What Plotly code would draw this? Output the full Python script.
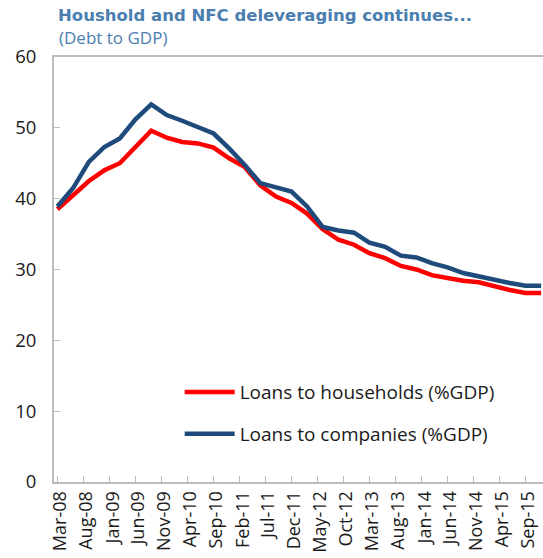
import plotly.graph_objects as go

# Quarterly observations, Mar-08 .. Dec-15 (dates placed mid-month)
quarters = [
    "2008-03-15", "2008-06-15", "2008-09-15", "2008-12-15",
    "2009-03-15", "2009-06-15", "2009-09-15", "2009-12-15",
    "2010-03-15", "2010-06-15", "2010-09-15", "2010-12-15",
    "2011-03-15", "2011-06-15", "2011-09-15", "2011-12-15",
    "2012-03-15", "2012-06-15", "2012-09-15", "2012-12-15",
    "2013-03-15", "2013-06-15", "2013-09-15", "2013-12-15",
    "2014-03-15", "2014-06-15", "2014-09-15", "2014-12-15",
    "2015-03-15", "2015-06-15", "2015-09-15", "2015-12-15",
]

households = [
    38.5, 40.4, 42.5, 44.0, 45.0, 47.3, 49.6, 48.6,
    48.0, 47.8, 47.2, 45.7, 44.5, 41.9, 40.3, 39.4,
    37.9, 35.7, 34.2, 33.5, 32.3, 31.6, 30.5, 30.0,
    29.2, 28.8, 28.4, 28.2, 27.6, 27.1, 26.7, 26.7,
]

companies = [
    38.9, 41.5, 45.2, 47.3, 48.5, 51.2, 53.3, 51.8,
    51.0, 50.1, 49.2, 47.1, 44.8, 42.2, 41.6, 41.0,
    38.9, 36.0, 35.5, 35.2, 33.8, 33.2, 31.95, 31.7,
    30.9, 30.3, 29.5, 29.0, 28.5, 28.1, 27.7, 27.7,
]

series_names = ["Loans to households (%GDP)", "Loans to companies (%GDP)"]
y_ticks = [0, 10, 20, 30, 40, 50, 60]

title_text = "Houshold and NFC deleveraging continues..."
subtitle_text = "(Debt to GDP)"

RED = "#ff0000"
NAVY = "#1f4a7c"
AXIS_GREY = "#bcbcbc"
TEXT = "#1a1a1a"
TITLE_BLUE = "#4a7eb0"
FONT = "Open Sans"

fig = go.Figure()
fig.add_trace(go.Scatter(
    x=quarters, y=households, mode="lines", name=series_names[0],
    line=dict(color=RED, width=4.5), legendgroup="hh",
))
fig.add_trace(go.Scatter(
    x=quarters, y=companies, mode="lines", name=series_names[1],
    line=dict(color=NAVY, width=4.5), legendgroup="nfc",
))

fig.update_layout(
    width=543, height=558,
    margin=dict(l=54, r=0, t=57, b=76),
    paper_bgcolor="white", plot_bgcolor="white",
    font=dict(family=FONT, size=18, color=TEXT),
    showlegend=True,
    legend=dict(
        x=0.257, y=0.162, xanchor="left", yanchor="middle",
        bgcolor="rgba(0,0,0,0)", font=dict(size=19, color=TEXT),
        tracegroupgap=14, itemwidth=50, traceorder="grouped",
    ),
    annotations=[
        dict(text="<b>" + title_text + "</b>", xref="paper", yref="paper",
             x=0.005, y=1.0, xanchor="left", yanchor="bottom", yshift=30,
             showarrow=False, font=dict(family="DejaVu Sans", size=16.5, color=TITLE_BLUE)),
        dict(text=subtitle_text, xref="paper", yref="paper",
             x=0.007, y=1.0, xanchor="left", yanchor="bottom", yshift=6,
             showarrow=False, font=dict(family=FONT, size=17, color=TITLE_BLUE)),
    ],
)

fig.update_xaxes(
    type="date",
    range=["2008-02-24", "2015-12-26"],
    tick0="2008-03-15", dtick="M5", tickformat="%b-%y",
    tickangle=-90,
    ticks="inside", ticklen=6, tickcolor=AXIS_GREY, tickwidth=1,
    showline=True, linecolor=AXIS_GREY, linewidth=2, mirror=True,
    showgrid=False, zeroline=False,
    tickfont=dict(family=FONT, size=18, color=TEXT),
    ticklabelshift=3,
)
fig.update_yaxes(
    range=[0, 60], tickvals=y_ticks,
    ticks="inside", ticklen=6, tickcolor=AXIS_GREY, tickwidth=1,
    showline=True, linecolor=AXIS_GREY, linewidth=2,
    showgrid=False, zeroline=False,
    tickfont=dict(family=FONT, size=18.5, color=TEXT),
    ticklabelstandoff=12,
)

fig.write_html("out.html")
